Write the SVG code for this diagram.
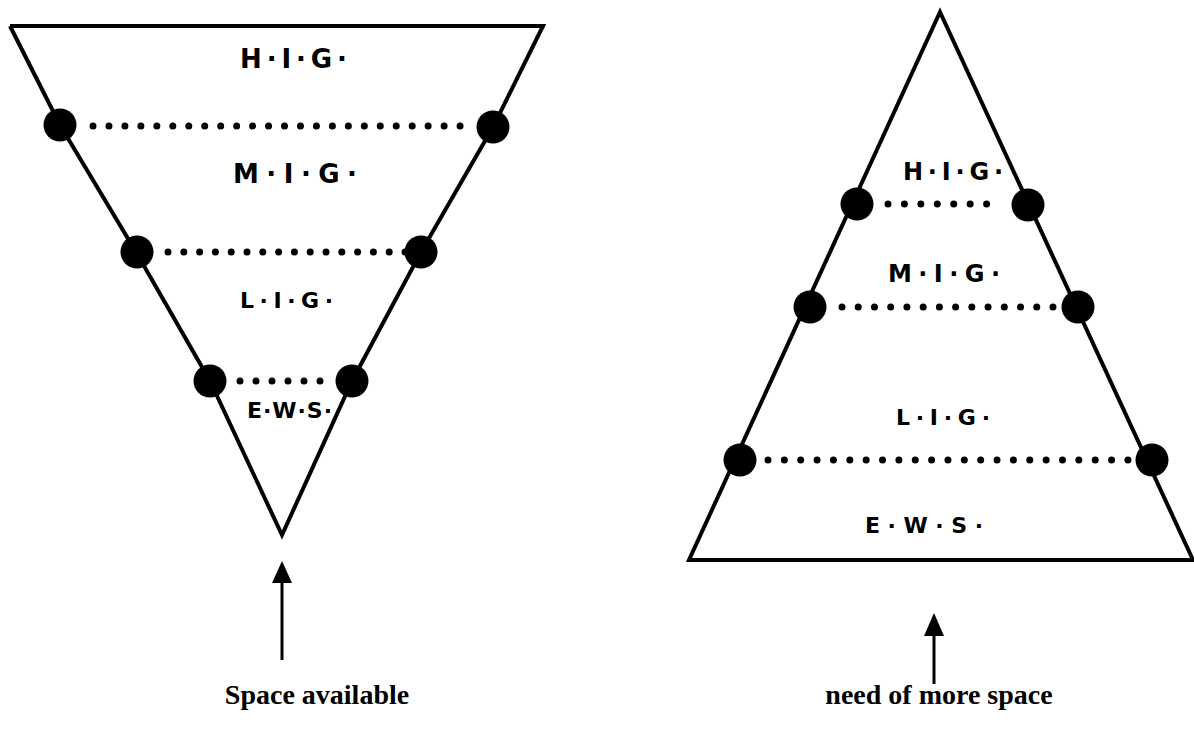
<svg xmlns="http://www.w3.org/2000/svg" width="1194" height="730" viewBox="0 0 1194 730">
<style>
.edge{fill:none;stroke:#000;stroke-width:4;stroke-linejoin:miter}
.big{fill:#000}
.dots{stroke:#000;stroke-width:7;stroke-linecap:round;fill:none}
.lbl{font-family:"DejaVu Sans",sans-serif;font-weight:bold;fill:#000}
.cap{font-family:"Liberation Serif",serif;font-weight:bold;font-size:28px;fill:#000;text-anchor:middle}
.shaft{stroke:#000;stroke-width:3}
</style>
<rect width="1194" height="730" fill="#fff"/>
<g id="inverted-pyramid">
<polyline class="edge" points="10,26 543,26 493,127 421,252 352,381 282,535 210,381 136,252 60,125 10,26"/>
<line class="dots" x1="93" y1="126" x2="476" y2="126" stroke-dasharray="0 15.96"/>
<line class="dots" x1="168" y1="252" x2="405" y2="252" stroke-dasharray="0 15.8"/>
<line class="dots" x1="240" y1="381" x2="336" y2="381" stroke-dasharray="0 16"/>
<circle class="big" cx="60" cy="125" r="16.5"/>
<circle class="big" cx="493" cy="127" r="16.5"/>
<circle class="big" cx="137" cy="252" r="16.5"/>
<circle class="big" cx="421" cy="252" r="16.5"/>
<circle class="big" cx="210" cy="381" r="16.5"/>
<circle class="big" cx="352" cy="381" r="16.5"/>
<text class="lbl" x="240" y="68" font-size="26" textLength="107" lengthAdjust="spacing">H·I·G·</text>
<text class="lbl" x="233" y="183" font-size="26" textLength="124" lengthAdjust="spacing">M·I·G·</text>
<text class="lbl" x="240" y="308" font-size="22" textLength="93" lengthAdjust="spacing">L·I·G·</text>
<text class="lbl" x="247" y="418" font-size="22" textLength="85" lengthAdjust="spacing">E·W·S·</text>
</g>
<g id="pyramid">
<polygon class="edge" points="940,12 1193,560 689,560"/>
<line class="dots" x1="888" y1="204" x2="1003" y2="204" stroke-dasharray="0 16.43"/>
<line class="dots" x1="842" y1="307" x2="1053" y2="307" stroke-dasharray="0 16.23"/>
<line class="dots" x1="768" y1="460" x2="1128" y2="460" stroke-dasharray="0 16.36"/>
<circle class="big" cx="857" cy="204" r="16.5"/>
<circle class="big" cx="1028" cy="205" r="16.5"/>
<circle class="big" cx="810" cy="307" r="16.5"/>
<circle class="big" cx="1078" cy="307" r="16.5"/>
<circle class="big" cx="740" cy="460" r="16.5"/>
<circle class="big" cx="1152" cy="460" r="16.5"/>
<text class="lbl" x="903" y="180" font-size="24" textLength="100" lengthAdjust="spacing">H·I·G·</text>
<text class="lbl" x="888" y="282" font-size="24" textLength="112" lengthAdjust="spacing">M·I·G·</text>
<text class="lbl" x="896" y="425" font-size="22" textLength="94" lengthAdjust="spacing">L·I·G·</text>
<text class="lbl" x="865" y="533" font-size="22" textLength="118" lengthAdjust="spacing">E·W·S·</text>
</g>
<g id="connectors">
<line class="shaft" x1="282" y1="580" x2="282" y2="660"/>
<polygon points="282,561 292,583 272,583" fill="#000"/>
<line class="shaft" x1="934" y1="632" x2="934" y2="684"/>
<polygon points="934,613 944,636 924,636" fill="#000"/>
</g>
<g id="caption-left"><text class="cap" x="317" y="704">Space available</text></g>
<g id="caption-right"><text class="cap" x="939" y="704">need of more space</text></g>
</svg>
